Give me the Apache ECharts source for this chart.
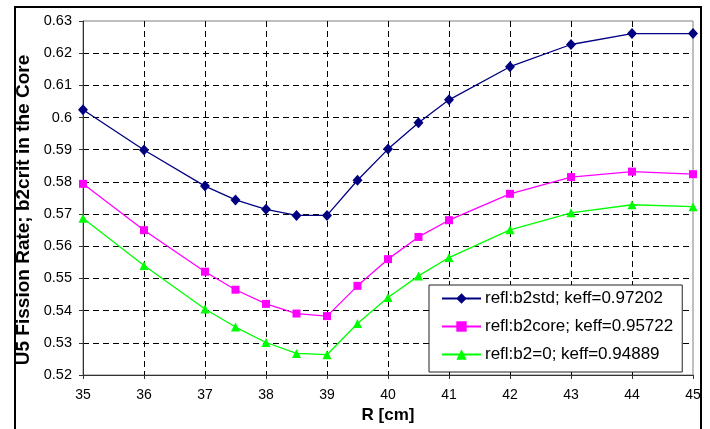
<!DOCTYPE html>
<html>
<head>
<meta charset="utf-8">
<style>
  html, body { margin: 0; padding: 0; background: #ffffff; }
  #chart { width: 710px; height: 429px; }
</style>
<script src="https://cdn.jsdelivr.net/npm/echarts@6/dist/echarts.min.js"></script>
</head>
<body>
<div id="chart"></div>
<script>
// radius points (cm)
const radii = [35, 36, 37, 37.5, 38, 38.5, 39, 39.5, 40, 40.5, 41, 42, 43, 44, 45];

const b2std = [0.6024, 0.5899, 0.5787, 0.5744, 0.5715, 0.5696, 0.5696, 0.5805, 0.5902, 0.5984, 0.6055, 0.6158, 0.6227, 0.6261, 0.6261];
const b2core = [0.5794, 0.5650, 0.5521, 0.5465, 0.5421, 0.5391, 0.5383, 0.5477, 0.5560, 0.5629, 0.5681, 0.5763, 0.5815, 0.5832, 0.5824];
const b2zero = [0.5687, 0.5540, 0.5405, 0.5349, 0.5301, 0.5267, 0.5263, 0.5360, 0.5441, 0.5508, 0.5565, 0.5651, 0.5704, 0.5729, 0.5723];

const seriesNames = ["refl:b2std; keff=0.97202", "refl:b2core; keff=0.95722", "refl:b2=0; keff=0.94889"];

const font = "Arial, 'Liberation Sans', sans-serif";

function pairs(values) {
  return radii.map((r, i) => [r, values[i]]);
}

function lineSeries(name, values, color, symbol, size) {
  return {
    name: name,
    type: "line",
    data: pairs(values),
    symbol: symbol,
    symbolSize: size,
    showAllSymbol: true,
    lineStyle: { color: color, width: 1.3 },
    itemStyle: { color: color, borderWidth: 0 },
    emphasis: { disabled: true },
    animation: false,
  };
}

const axisDark = "#333333";
const gridDash = { color: "#000000", type: [6, 4], width: 1 };

const chart = echarts.init(document.getElementById("chart"), null, { renderer: "canvas" });
chart.setOption({
  backgroundColor: "#ffffff",
  animation: false,
  grid: {
    left: 83, right: 17, top: 21, bottom: 54,
    show: true, borderColor: "#808080", borderWidth: 1, backgroundColor: "transparent",
  },
  graphic: [
    {
      type: "rect",
      shape: { x: 15, y: 7, width: 686, height: 440 },
      style: { fill: null, stroke: "#000000", lineWidth: 2 },
      silent: true,
    },
  ],
  legend: {
    left: 429, top: 285,
    orient: "vertical",
    backgroundColor: "#ffffff",
    borderColor: "#222222",
    borderWidth: 1,
    padding: [5, 9, 9, 12],
    itemGap: 11,
    itemWidth: 39,
    itemHeight: 13,
    textStyle: { color: "#000000", fontSize: 17, fontFamily: font, padding: [0, 0, 0, -1] },
    data: seriesNames,
  },
  xAxis: {
    type: "value",
    min: 35, max: 45, interval: 1,
    name: "R [cm]",
    nameLocation: "middle",
    nameGap: 28,
    nameTextStyle: { color: "#000000", fontSize: 17, fontWeight: "bold", fontFamily: font },
    axisLine: { show: true, lineStyle: { color: axisDark, width: 1 } },
    axisTick: { show: true, inside: false, length: 4, lineStyle: { color: axisDark } },
    axisLabel: { color: "#000000", fontSize: 14, fontFamily: font, margin: 13 },
    splitLine: { show: true, showMinLine: false, showMaxLine: false, lineStyle: gridDash },
  },
  yAxis: {
    type: "value",
    min: 0.52, max: 0.63, interval: 0.01,
    name: "U5 Fission Rate; b2crit in the Core",
    nameLocation: "middle",
    nameGap: 45,
    nameTextStyle: {
      color: "#000000", fontSize: 19, fontWeight: "bold", fontFamily: font,
      padding: [0, 24, 0, 0],
    },
    axisLine: { show: true, lineStyle: { color: axisDark, width: 1 } },
    axisTick: { show: true, inside: false, length: 4, lineStyle: { color: axisDark } },
    axisLabel: {
      color: "#000000", fontSize: 14.5, fontFamily: font, margin: 11,
      formatter: (v) => String(parseFloat(v.toFixed(2))),
    },
    splitLine: { show: true, showMinLine: false, showMaxLine: false, lineStyle: gridDash },
  },
  series: [
    lineSeries(seriesNames[0], b2std, "#000080", "diamond", [10, 11]),
    lineSeries(seriesNames[1], b2core, "#ff00ff", "rect", 8),
    lineSeries(seriesNames[2], b2zero, "#00ff00", "triangle", 9),
  ],
});
</script>
</body>
</html>
